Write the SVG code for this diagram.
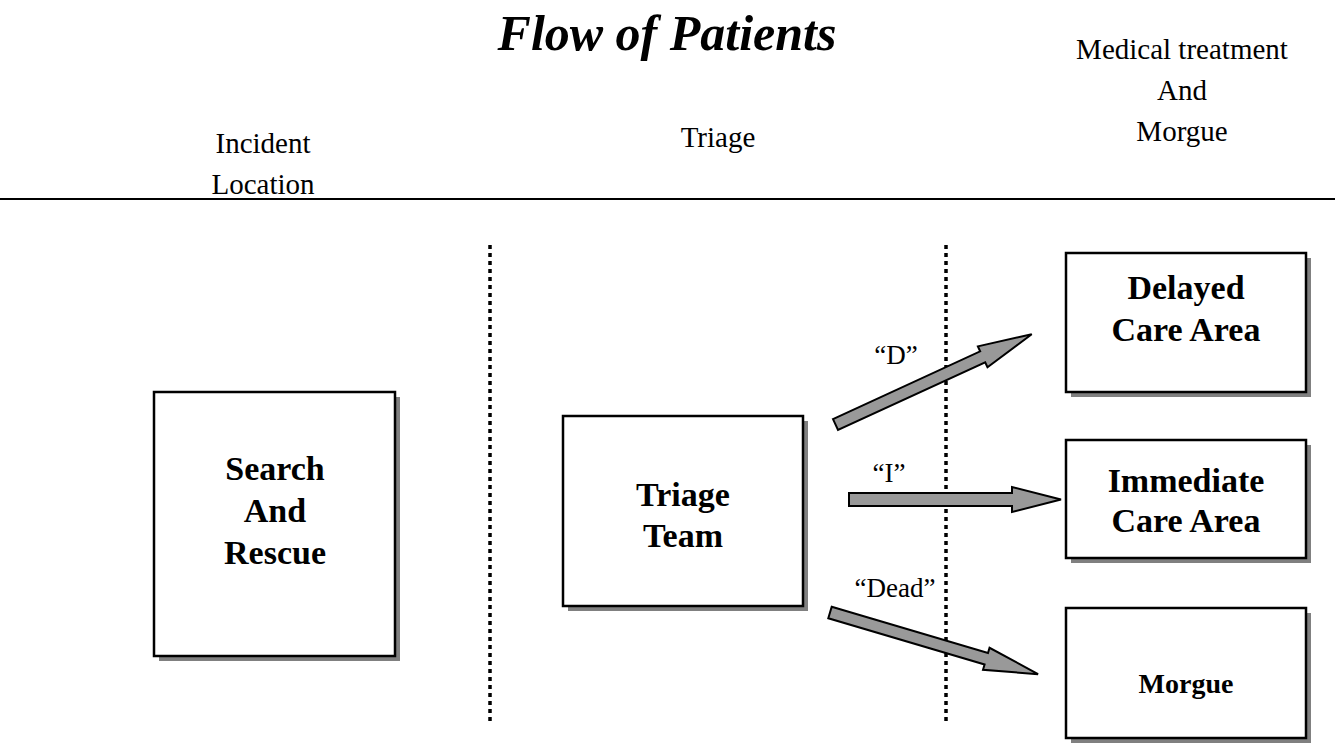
<svg xmlns="http://www.w3.org/2000/svg" width="1335" height="753" viewBox="0 0 1335 753">
<style>
.t{font-family:"Liberation Serif","Times New Roman",serif;fill:#000}
.hdr{font-size:29px;text-anchor:middle}
.lab{font-size:27px;text-anchor:middle}
.nt{font-size:34px;font-weight:bold;text-anchor:middle}
.box{fill:#fff;stroke:#000;stroke-width:2.5}
.sh{fill:#808080}
.arr{fill:#999;stroke:#000;stroke-width:2;stroke-linejoin:miter}
.dot{stroke:#000;stroke-width:3.5;stroke-dasharray:4 4;fill:none}
</style>
<rect width="1335" height="753" fill="#fff"/>
<text class="t" x="667" y="50" font-size="50" font-weight="bold" font-style="italic" text-anchor="middle">Flow of Patients</text>
<g id="headers">
<text class="t hdr" x="263" y="153">Incident</text>
<text class="t hdr" x="263" y="194">Location</text>
<text class="t hdr" x="718" y="147">Triage</text>
<text class="t hdr" x="1182" y="59">Medical treatment</text>
<text class="t hdr" x="1182" y="100">And</text>
<text class="t hdr" x="1182" y="141">Morgue</text>
</g>
<line x1="0" y1="199" x2="1335" y2="199" stroke="#000" stroke-width="2"/>
<line class="dot" x1="490" y1="245" x2="490" y2="724"/>
<line class="dot" x1="946" y1="245" x2="946" y2="724"/>
<g id="search-rescue">
<rect class="sh" x="159" y="397" width="241" height="264"/>
<rect class="box" x="154" y="392" width="241" height="264"/>
<text class="t nt" x="275" y="480">Search</text>
<text class="t nt" x="275" y="522">And</text>
<text class="t nt" x="275" y="564">Rescue</text>
</g>
<g id="triage-team">
<rect class="sh" x="568" y="421" width="240" height="190"/>
<rect class="box" x="563" y="416" width="240" height="190"/>
<text class="t nt" x="683" y="506">Triage</text>
<text class="t nt" x="683" y="547">Team</text>
</g>
<g id="delayed">
<rect class="sh" x="1071" y="258" width="240" height="139"/>
<rect class="box" x="1066" y="253" width="240" height="139"/>
<text class="t nt" x="1186" y="299">Delayed</text>
<text class="t nt" x="1186" y="341">Care Area</text>
</g>
<g id="immediate">
<rect class="sh" x="1071" y="445" width="240" height="118"/>
<rect class="box" x="1066" y="440" width="240" height="118"/>
<text class="t nt" x="1186" y="492">Immediate</text>
<text class="t nt" x="1186" y="532">Care Area</text>
</g>
<g id="morgue">
<rect class="sh" x="1071" y="613" width="240" height="130"/>
<rect class="box" x="1066" y="608" width="240" height="130"/>
<text class="t" x="1186" y="693" font-size="28" font-weight="bold" text-anchor="middle">Morgue</text>
</g>
<g id="connectors">
<path class="arr" transform="translate(835.5,424.5) rotate(-24.7)" d="M0,-6 L162,-6 L162,-11.5 L216,0 L162,11.5 L162,6 L0,6 Z"/>
<path class="arr" transform="translate(849,499.5)" d="M0,-6.5 L163,-6.5 L163,-12.5 L212,0 L163,12.5 L163,6.5 L0,6.5 Z"/>
<path class="arr" transform="translate(830,612.5) rotate(16.5)" d="M0,-6 L163,-6 L163,-11.5 L217,0 L163,11.5 L163,6 L0,6 Z"/>
<text class="t lab" x="896" y="364">“D”</text>
<text class="t lab" x="889" y="482">“I”</text>
<text class="t lab" x="895" y="597">“Dead”</text>
</g>
</svg>
